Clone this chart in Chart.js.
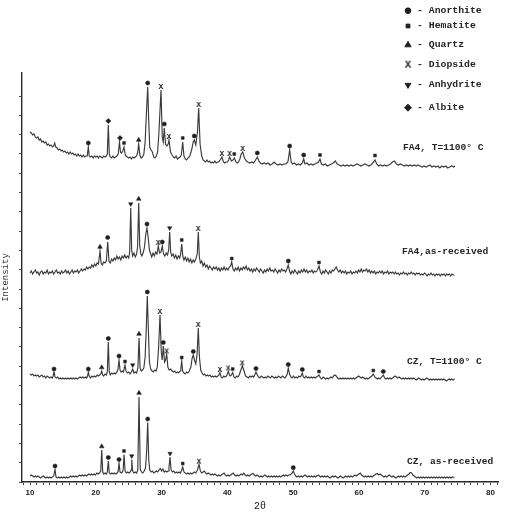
<!DOCTYPE html>
<html><head><meta charset="utf-8">
<style>html,body{margin:0;padding:0;background:#fff;}canvas{display:block;}</style>
<script src="https://cdn.jsdelivr.net/npm/chart.js@4.4.1/dist/chart.umd.min.js"></script>
</head><body>
<canvas id="c" width="515" height="515"></canvas>
<script>
// ---- tick labels ----
const xTickLabels = ['10','20','30','40','50','60','70','80'];
const xTickValues = [9,10,11,12,13,14,15,16,17,18,19,20,21,22,23,24,25,26,27,28,29,30,31,32,33,34,35,36,37,38,39,40,41,42,43,44,45,46,47,48,49,50,51,52,53,54,55,56,57,58,59,60,61,62,63,64,65,66,67,68,69,70,71,72,73,74,75,76,77,78,79,80,81];

// ---- series: [2theta, intensity (offset, arbitrary units)] ----
const fa4Heated = [[10.0,350],[10.2,349],[10.4,347],[10.6,348],[10.8,345],[11.0,344],[11.2,345],[11.4,342],[11.6,343],[11.8,340],[12.0,341],[12.2,339],[12.4,340],[12.6,337],[12.8,338],[13.0,336],[13.2,337],[13.4,335],[13.6,336],[13.75,339],[13.9,335],[14.1,334],[14.3,332],[14.5,333],[14.7,331],[14.9,332],[15.1,330],[15.3,331],[15.5,329],[15.7,330],[15.9,328],[16.1,330],[16.3,328],[16.5,329],[16.7,327],[16.9,328],[17.1,326],[17.3,328],[17.5,326],[17.7,327],[17.9,325],[18.1,327],[18.3,325],[18.5,326],[18.7,326],[18.86,335],[19.0,326],[19.2,325],[19.4,326],[19.6,324],[19.8,326],[20.0,325],[20.2,326],[20.4,324],[20.6,326],[20.8,325],[21.0,324],[21.2,326],[21.4,325],[21.6,326],[21.75,328],[21.9,357],[22.05,328],[22.2,325],[22.4,324],[22.6,326],[22.8,324],[23.0,325],[23.2,326],[23.4,328],[23.6,340],[23.75,330],[23.9,329],[24.1,331],[24.29,335],[24.45,328],[24.6,326],[24.8,325],[25.0,324],[25.2,325],[25.4,323],[25.6,325],[25.8,324],[26.0,325],[26.2,326],[26.35,329],[26.52,338],[26.7,327],[26.9,324],[27.1,325],[27.3,328],[27.5,340],[27.7,370],[27.89,395],[28.05,360],[28.2,335],[28.4,332],[28.6,330],[28.8,325],[29.0,324],[29.2,326],[29.4,330],[29.6,350],[29.91,392],[30.1,345],[30.25,340],[30.41,354],[30.6,338],[30.8,336],[31.0,338],[31.13,342],[31.35,330],[31.6,327],[31.8,325],[32.0,324],[32.2,326],[32.4,323],[32.6,324],[32.8,325],[33.0,327],[33.21,340],[33.4,326],[33.6,323],[33.8,322],[34.0,324],[34.3,326],[34.6,333],[34.8,340],[34.97,342],[35.2,337],[35.45,350],[35.64,374],[35.85,338],[36.1,326],[36.3,322],[36.5,321],[36.7,320],[36.9,322],[37.1,320],[37.3,321],[37.5,319],[37.7,320],[37.9,319],[38.1,321],[38.3,319],[38.5,320],[38.7,320],[38.9,322],[39.18,325],[39.4,320],[39.6,319],[39.8,320],[40.0,320],[40.2,322],[40.35,325],[40.6,321],[40.85,322],[41.05,324],[41.3,320],[41.5,319],[41.7,320],[41.9,323],[42.1,328],[42.33,330],[42.6,324],[42.9,321],[43.1,320],[43.4,319],[43.7,320],[44.0,319],[44.2,321],[44.55,325],[44.8,321],[45.0,319],[45.3,318],[45.6,319],[45.9,318],[46.2,319],[46.5,317],[46.8,318],[47.1,320],[47.4,318],[47.7,317],[48.0,318],[48.3,317],[48.6,318],[48.9,318],[49.2,320],[49.47,332],[49.7,320],[49.9,318],[50.2,319],[50.5,317],[50.8,318],[51.1,317],[51.4,319],[51.6,323],[51.8,318],[52.1,319],[52.4,317],[52.7,318],[53.0,317],[53.3,318],[53.6,319],[53.85,320],[54.08,323],[54.3,318],[54.6,317],[54.9,318],[55.2,316],[55.5,317],[55.8,318],[56.1,319],[56.4,321],[56.7,318],[57.0,317],[57.3,316],[57.6,317],[57.9,316],[58.2,317],[58.5,316],[58.8,317],[59.1,316],[59.4,317],[59.7,318],[60.0,317],[60.3,316],[60.6,317],[60.9,318],[61.2,317],[61.5,316],[61.8,317],[62.1,319],[62.44,322],[62.7,318],[63.0,316],[63.3,317],[63.6,316],[63.9,317],[64.2,316],[64.5,317],[64.8,318],[65.1,320],[65.4,321],[65.7,318],[66.0,317],[66.3,318],[66.6,317],[66.9,316],[67.2,317],[67.5,316],[67.8,317],[68.1,316],[68.4,317],[68.7,316],[69.0,317],[69.3,316],[69.6,315],[69.9,316],[70.2,315],[70.5,316],[70.8,317],[71.1,315],[71.4,316],[71.7,315],[72.0,316],[72.3,314],[72.6,316],[72.9,315],[73.2,316],[73.5,314],[73.8,315],[74.1,316],[74.4,315],[74.6,316]];

const fa4Received = [[10.0,209],[10.2,211],[10.4,208],[10.6,210],[10.8,212],[11.0,209],[11.2,210],[11.4,207],[11.6,210],[11.8,211],[12.0,208],[12.2,210],[12.4,209],[12.6,212],[12.8,208],[13.0,210],[13.2,209],[13.4,211],[13.6,208],[13.8,210],[14.0,212],[14.2,209],[14.4,210],[14.6,208],[14.8,211],[15.0,209],[15.2,210],[15.4,212],[15.6,209],[15.8,211],[16.0,208],[16.2,210],[16.4,212],[16.6,209],[16.8,211],[17.0,210],[17.2,212],[17.4,209],[17.6,211],[17.8,213],[18.0,211],[18.2,213],[18.4,212],[18.6,215],[18.8,213],[19.0,215],[19.2,214],[19.4,217],[19.6,215],[19.8,218],[20.0,216],[20.2,219],[20.4,218],[20.64,231],[20.8,219],[21.0,217],[21.2,220],[21.4,219],[21.6,221],[21.81,240],[22.0,221],[22.2,219],[22.4,223],[22.6,221],[22.8,224],[23.0,222],[23.2,226],[23.4,223],[23.6,225],[23.8,222],[24.0,226],[24.2,224],[24.4,227],[24.6,224],[24.8,226],[25.0,224],[25.15,230],[25.31,274],[25.45,232],[25.6,226],[25.8,229],[26.0,225],[26.2,228],[26.35,235],[26.52,279],[26.68,236],[26.85,228],[27.0,226],[27.2,229],[27.4,235],[27.6,248],[27.78,254],[27.95,245],[28.15,232],[28.35,228],[28.5,225],[28.7,229],[28.9,226],[29.1,230],[29.3,228],[29.5,236],[29.7,229],[29.9,230],[30.11,236],[30.3,228],[30.5,226],[30.7,229],[30.9,227],[31.08,232],[31.23,250],[31.38,230],[31.55,226],[31.75,228],[31.95,224],[32.15,227],[32.35,223],[32.55,226],[32.75,224],[32.9,228],[33.06,238],[33.22,226],[33.4,222],[33.6,225],[33.8,221],[34.0,224],[34.2,220],[34.4,223],[34.6,219],[34.8,222],[35.0,220],[35.2,223],[35.42,228],[35.58,250],[35.74,225],[35.9,219],[36.1,221],[36.3,216],[36.5,219],[36.7,215],[36.9,217],[37.1,213],[37.3,216],[37.5,214],[37.7,212],[37.9,215],[38.1,213],[38.3,215],[38.5,212],[38.7,214],[38.9,211],[39.1,214],[39.3,212],[39.5,215],[39.7,212],[39.9,214],[40.1,212],[40.3,215],[40.5,216],[40.66,220],[40.85,213],[41.05,211],[41.25,214],[41.45,212],[41.65,215],[41.85,211],[42.05,214],[42.25,212],[42.45,215],[42.65,213],[42.85,216],[43.05,212],[43.25,214],[43.45,211],[43.65,213],[43.85,210],[44.05,213],[44.25,211],[44.45,214],[44.65,212],[44.85,210],[45.05,213],[45.25,211],[45.45,209],[45.65,212],[45.85,210],[46.05,213],[46.25,211],[46.45,214],[46.65,211],[46.85,212],[47.05,210],[47.25,213],[47.45,211],[47.65,209],[47.85,212],[48.05,210],[48.25,213],[48.45,211],[48.65,212],[48.85,210],[49.05,213],[49.26,217],[49.45,211],[49.65,208],[49.85,211],[50.05,209],[50.25,212],[50.45,210],[50.65,208],[50.85,211],[51.05,209],[51.25,212],[51.45,210],[51.65,213],[51.85,210],[52.05,212],[52.25,209],[52.45,211],[52.65,210],[52.85,212],[53.05,209],[53.25,211],[53.45,210],[53.7,212],[53.93,216],[54.15,210],[54.35,208],[54.55,211],[54.75,209],[54.95,212],[55.15,210],[55.35,208],[55.55,211],[55.75,209],[55.95,212],[56.15,211],[56.35,213],[56.55,215],[56.75,212],[56.95,210],[57.15,212],[57.35,209],[57.55,211],[57.75,209],[57.95,211],[58.15,208],[58.35,210],[58.55,209],[58.75,211],[58.95,208],[59.15,210],[59.35,209],[59.55,211],[59.75,209],[59.95,212],[60.15,210],[60.35,213],[60.55,210],[60.75,212],[60.95,211],[61.15,213],[61.35,210],[61.55,212],[61.75,209],[61.95,211],[62.15,209],[62.35,211],[62.55,208],[62.75,210],[62.95,209],[63.15,211],[63.35,209],[63.55,211],[63.75,208],[63.95,210],[64.15,209],[64.35,211],[64.55,208],[64.75,210],[64.95,209],[65.15,210],[65.35,208],[65.55,210],[65.75,208],[65.95,209],[66.15,207],[66.35,209],[66.55,208],[66.75,210],[66.95,208],[67.15,209],[67.35,207],[67.55,209],[67.75,208],[67.95,210],[68.15,208],[68.35,209],[68.55,207],[68.75,209],[68.95,208],[69.15,209],[69.35,207],[69.55,208],[69.75,207],[69.95,209],[70.15,208],[70.35,206],[70.55,208],[70.75,207],[70.95,209],[71.15,207],[71.35,208],[71.55,206],[71.75,208],[71.95,207],[72.15,208],[72.35,206],[72.55,208],[72.75,207],[72.95,208],[73.15,206],[73.35,208],[73.55,207],[73.75,208],[73.95,206],[74.15,208],[74.35,207],[74.55,207]];

const czHeated = [[10.0,108],[10.2,107],[10.4,108],[10.6,106],[10.8,107],[11.0,106],[11.2,107],[11.4,105],[11.6,106],[11.8,107],[12.0,105],[12.2,106],[12.4,104],[12.6,106],[12.8,105],[13.0,104],[13.2,105],[13.4,104],[13.5,106],[13.65,110],[13.8,105],[14.0,104],[14.2,105],[14.4,103],[14.6,104],[14.8,103],[15.0,104],[15.2,103],[15.4,104],[15.6,103],[15.8,104],[16.0,103],[16.2,104],[16.4,103],[16.6,104],[16.8,103],[17.0,104],[17.2,103],[17.4,104],[17.6,105],[17.8,104],[18.0,105],[18.2,104],[18.4,105],[18.6,104],[18.75,106],[18.86,110],[19.0,106],[19.2,104],[19.4,106],[19.6,105],[19.8,106],[20.0,105],[20.2,107],[20.4,106],[20.6,107],[20.75,108],[20.9,111],[21.05,107],[21.2,106],[21.4,108],[21.6,107],[21.75,110],[21.9,140],[22.05,110],[22.2,107],[22.4,109],[22.6,108],[22.8,109],[23.0,108],[23.2,110],[23.38,113],[23.53,122],[23.68,112],[23.85,110],[24.0,111],[24.2,110],[24.44,117],[24.6,111],[24.8,109],[25.0,110],[25.2,108],[25.4,110],[25.61,113],[25.8,109],[26.0,110],[26.2,109],[26.4,114],[26.57,144],[26.73,114],[26.9,111],[27.1,112],[27.3,114],[27.5,125],[27.65,150],[27.83,186],[28.0,150],[28.15,120],[28.35,113],[28.55,111],[28.75,110],[28.95,112],[29.15,111],[29.35,115],[29.55,135],[29.76,167],[29.95,130],[30.1,122],[30.26,136],[30.45,120],[30.6,122],[30.78,128],[30.95,115],[31.15,112],[31.4,113],[31.6,111],[31.8,110],[32.0,111],[32.2,109],[32.4,110],[32.6,109],[32.8,111],[32.92,113],[33.06,121],[33.2,111],[33.4,109],[33.6,108],[33.8,110],[34.0,109],[34.2,111],[34.45,115],[34.65,124],[34.82,127],[35.0,122],[35.2,118],[35.4,128],[35.58,154],[35.75,125],[35.95,112],[36.15,109],[36.35,107],[36.55,108],[36.75,106],[36.95,107],[37.15,106],[37.35,107],[37.55,105],[37.75,106],[37.95,105],[38.15,106],[38.35,105],[38.55,106],[38.72,107],[38.88,109.5],[39.05,105],[39.25,104],[39.45,106],[39.65,105],[39.85,106],[40.0,108],[40.14,111],[40.3,107],[40.45,106],[40.62,107],[40.81,109.5],[41.0,105],[41.2,104],[41.4,106],[41.6,105],[41.8,107],[42.0,111],[42.27,116],[42.5,112],[42.75,106],[43.0,105],[43.2,104],[43.4,106],[43.6,105],[43.8,106],[44.0,105],[44.15,107],[44.35,110],[44.55,107],[44.75,105],[44.95,104],[45.15,106],[45.35,105],[45.55,104],[45.75,105],[45.95,104],[46.15,106],[46.35,105],[46.55,104],[46.75,106],[46.95,105],[47.15,104],[47.35,105],[47.55,104],[47.75,106],[47.95,105],[48.15,104],[48.35,106],[48.55,105],[48.75,104],[48.95,106],[49.1,108],[49.26,114],[49.45,108],[49.65,105],[49.85,104],[50.05,106],[50.25,104],[50.45,105],[50.65,104],[50.85,106],[51.05,105],[51.2,106],[51.39,109],[51.55,105],[51.75,104],[51.95,106],[52.15,104],[52.35,105],[52.55,104],[52.75,105],[52.95,104],[53.15,105],[53.35,104],[53.55,105],[53.75,106],[53.93,107],[54.15,104],[54.35,103],[54.55,105],[54.75,104],[54.95,103],[55.15,104],[55.35,103],[55.55,104],[55.75,105],[55.95,104],[56.15,106],[56.35,107],[56.55,106],[56.75,104],[56.95,103],[57.15,104],[57.35,103],[57.55,104],[57.75,103],[57.95,104],[58.15,103],[58.35,104],[58.55,103],[58.75,104],[58.95,103],[59.15,104],[59.35,103],[59.55,104],[59.75,105],[59.95,106],[60.15,105],[60.35,104],[60.55,105],[60.75,104],[60.95,103],[61.15,104],[61.35,103],[61.55,104],[61.75,105],[61.95,106],[62.18,108],[62.4,105],[62.6,104],[62.8,103],[63.0,104],[63.2,103],[63.45,105],[63.7,107],[63.9,104],[64.1,103],[64.3,104],[64.5,103],[64.7,104],[64.9,103],[65.1,104],[65.3,105],[65.5,106],[65.7,105],[65.9,104],[66.1,105],[66.3,104],[66.5,103],[66.7,104],[66.9,103],[67.1,104],[67.3,103],[67.5,104],[67.7,103],[67.9,104],[68.1,103],[68.3,104],[68.5,103],[68.7,102],[68.9,103],[69.1,104],[69.3,103],[69.5,102],[69.7,103],[69.9,102],[70.1,103],[70.3,104],[70.5,103],[70.7,102],[70.9,103],[71.1,102],[71.3,103],[71.5,102],[71.7,103],[71.9,102],[72.1,103],[72.3,102],[72.5,103],[72.7,102],[72.9,103],[73.1,102],[73.3,101],[73.5,102],[73.7,103],[73.9,102],[74.1,103],[74.3,102],[74.55,103]];

const czReceived = [[10.0,6],[10.2,7],[10.4,6],[10.6,5],[10.8,6],[11.0,5],[11.2,6],[11.4,5],[11.6,4],[11.8,5],[12.0,6],[12.2,5],[12.4,4],[12.6,5],[12.8,4],[13.0,5],[13.2,4],[13.4,5],[13.6,6],[13.8,12.5],[13.95,5],[14.15,4],[14.35,5],[14.55,4],[14.75,5],[14.95,4],[15.15,5],[15.35,4],[15.55,5],[15.75,4],[15.95,5],[16.15,6],[16.35,5],[16.55,6],[16.75,5],[16.95,6],[17.15,5],[17.35,6],[17.55,7],[17.75,6],[17.95,7],[18.15,6],[18.35,7],[18.55,6],[18.75,7],[18.95,8],[19.15,7],[19.35,8],[19.55,7],[19.75,8],[19.95,7],[20.15,9],[20.35,8],[20.55,9],[20.75,11],[20.9,32],[21.05,10],[21.2,8],[21.4,9],[21.6,8],[21.75,10],[21.9,21],[22.05,9],[22.25,8],[22.45,9],[22.65,8],[22.85,9],[23.05,8],[23.25,9],[23.4,11],[23.53,19],[23.68,10],[23.85,9],[24.05,10],[24.15,12],[24.29,27.5],[24.45,11],[24.65,9],[24.85,10],[25.05,9],[25.25,10],[25.35,12],[25.46,22.5],[25.6,11],[25.8,9],[26.0,10],[26.2,9],[26.38,12],[26.57,85],[26.75,13],[26.95,10],[27.15,9],[27.35,11],[27.55,14],[27.72,30],[27.89,59.5],[28.05,22],[28.2,12],[28.4,10],[28.6,11],[28.8,9],[29.0,10],[29.2,11],[29.4,10],[29.6,12],[29.8,13.5],[30.0,11],[30.2,13],[30.4,10],[30.6,11],[30.8,10],[31.0,11],[31.12,14],[31.28,25],[31.45,12],[31.65,10],[31.85,11],[32.05,9],[32.25,10],[32.45,9],[32.65,10],[32.85,9],[33.0,11],[33.21,15],[33.4,10],[33.6,9],[33.8,8],[34.0,9],[34.2,8],[34.4,9],[34.6,8],[34.8,9],[35.0,10],[35.2,9],[35.45,12],[35.69,17.8],[35.9,11],[36.1,9],[36.3,10],[36.5,11],[36.7,9],[36.9,8],[37.1,9],[37.3,8],[37.5,7],[37.7,8],[37.9,7],[38.1,8],[38.3,7],[38.5,6],[38.7,7],[38.9,6],[39.1,7],[39.3,8],[39.5,9],[39.7,7],[39.9,6],[40.1,7],[40.3,6],[40.5,7],[40.7,8],[40.9,9],[41.1,7],[41.3,6],[41.5,7],[41.7,6],[41.9,7],[42.1,8],[42.3,7],[42.5,9],[42.7,7],[42.9,6],[43.1,7],[43.3,6],[43.5,7],[43.7,8],[43.9,8.5],[44.1,7],[44.3,6],[44.5,7],[44.7,6],[44.9,5],[45.1,6],[45.3,5],[45.5,6],[45.7,7],[45.9,6],[46.1,5],[46.3,6],[46.5,5],[46.7,6],[46.9,5],[47.1,6],[47.3,5],[47.5,6],[47.7,5],[47.9,6],[48.1,5],[48.3,6],[48.5,7],[48.7,6],[48.9,7],[49.1,6],[49.3,7],[49.5,7],[49.7,8],[49.85,9],[50.02,11],[50.2,8],[50.4,6],[50.6,5],[50.8,6],[51.0,5],[51.2,6],[51.4,5],[51.6,6],[51.8,7],[52.0,6],[52.2,5],[52.4,6],[52.6,5],[52.8,6],[53.0,5],[53.2,6],[53.4,5],[53.6,6],[53.8,7],[54.0,6],[54.2,5],[54.4,6],[54.6,5],[54.8,6],[55.0,5],[55.2,6],[55.4,5],[55.6,4],[55.8,5],[56.0,6],[56.2,5],[56.4,6],[56.6,5],[56.8,4],[57.0,5],[57.2,6],[57.4,5],[57.6,4],[57.8,5],[58.0,6],[58.2,5],[58.4,6],[58.6,5],[58.8,6],[59.0,5],[59.2,6],[59.4,7],[59.6,6],[59.8,7],[60.0,8],[60.2,9],[60.4,7],[60.6,6],[60.8,5],[61.0,6],[61.2,5],[61.4,6],[61.6,5],[61.8,6],[62.0,5],[62.2,6],[62.4,7],[62.6,8],[62.8,8.5],[63.0,7],[63.2,8],[63.4,7],[63.6,6],[63.8,5],[64.0,6],[64.2,5],[64.4,6],[64.6,7],[64.8,6],[65.0,5],[65.2,6],[65.4,5],[65.6,4],[65.8,5],[66.0,6],[66.2,5],[66.4,6],[66.6,5],[66.8,6],[67.0,5],[67.2,6],[67.4,7],[67.6,8],[67.8,9.5],[68.0,9],[68.2,7],[68.4,6],[68.6,5],[68.8,4],[69.0,5],[69.2,4],[69.4,5],[69.6,4],[69.8,5],[70.0,4],[70.2,5],[70.4,4],[70.6,5],[70.8,4],[71.0,5],[71.2,4],[71.4,5],[71.6,4],[71.8,5],[72.0,4],[72.2,5],[72.4,4],[72.6,5],[72.8,4],[73.0,5],[73.2,4],[73.4,5],[73.6,4],[73.8,5],[74.0,4],[74.2,5],[74.5,4.5]];

// ---- phase markers: [2theta, intensity, phase code] ----
const fa4HeatedPeaks = [[18.86,339,'A'],[21.9,361,'B'],[23.68,344,'B'],[24.29,339,'H'],[26.52,342,'Q'],[27.89,399,'A'],[29.91,396,'D'],[30.41,358,'A'],[31.13,346,'D'],[33.21,344,'H'],[34.97,346,'A'],[35.64,378,'D'],[39.18,329,'D'],[40.35,329,'D'],[41.05,328,'H'],[42.33,334,'D'],[44.55,329,'A'],[49.47,336,'A'],[51.6,327,'A'],[54.08,327,'H'],[62.44,326.5,'H']];
const fa4ReceivedPeaks = [[20.64,235,'Q'],[21.81,244.5,'A'],[25.31,278,'N'],[26.52,283,'Q'],[27.78,258,'A'],[29.5,240,'D'],[30.11,240,'A'],[31.23,254,'N'],[33.06,242,'H'],[35.58,254,'D'],[40.66,223.5,'H'],[49.26,221,'A'],[53.93,219.5,'H']];
const czHeatedPeaks = [[13.65,113,'A'],[18.86,113,'A'],[20.9,114.5,'Q'],[21.9,143.5,'A'],[23.53,126,'A'],[24.44,120.5,'H'],[25.61,117,'N'],[26.57,148,'Q'],[27.83,190,'A'],[29.76,171,'D'],[30.26,139.5,'A'],[30.78,131.5,'D'],[33.06,124.5,'H'],[34.82,130.5,'A'],[35.58,158,'D'],[38.88,113,'D'],[40.14,114.5,'D'],[40.81,113,'H'],[42.27,119.5,'D'],[44.35,113.5,'A'],[49.26,117.5,'A'],[51.39,112.5,'A'],[53.93,110.5,'H'],[62.18,111.5,'H'],[63.7,110.5,'A']];
const czReceivedPeaks = [[13.8,16,'A'],[20.9,35.5,'Q'],[21.9,24.5,'A'],[23.53,22.5,'A'],[24.29,31,'H'],[25.46,26,'N'],[26.57,89,'Q'],[27.89,63,'A'],[31.28,28.5,'N'],[33.21,18.5,'H'],[35.69,21.3,'D'],[50.02,14.3,'A']];

// ---- phases / legend ----
const phaseCodes = ['A','H','Q','D','N','B'];
const phaseNames = ['Anorthite','Hematite','Quartz','Diopside','Anhydrite','Albite'];
const traceLabels = ['FA4, T=1100\u00b0 C','FA4,as-received','CZ, T=1100\u00b0 C','CZ, as-received'];
const traceLabelAnchors = [[66.7,334],[66.55,230],[67.3,120],[67.3,20]];

// ---- styles ----
const inkColor = '#1e1e1e';
const lineColor = '#3a3a3a';
const monoFont = '"Liberation Mono", "DejaVu Sans Mono", monospace';

// letter-X glyph used as the Diopside point style
function makeXGlyph(px){
  const c = document.createElement('canvas');
  const w = Math.ceil(px*0.75), h = Math.ceil(px*0.9);
  c.width = w; c.height = h;
  const g = c.getContext('2d');
  g.fillStyle = inkColor; g.textAlign = 'center'; g.textBaseline = 'middle';
  g.font = 'bold ' + px + 'px ' + monoFont;
  g.fillText('X', w/2, h/2 + 0.5);
  return c;
}
const xGlyphSmall = makeXGlyph(8);
const xGlyphLegend = makeXGlyph(11);

const phaseStyle = {
  A:{pointStyle:'circle',radius:2.1,rotation:0,bw:0.5},
  H:{pointStyle:'rect',radius:2.0,rotation:0,bw:0.5},
  Q:{pointStyle:'triangle',radius:2.7,rotation:0,bw:0.5},
  D:{pointStyle:xGlyphSmall,radius:3,rotation:0,bw:0},
  N:{pointStyle:'triangle',radius:2.5,rotation:180,bw:0.5},
  B:{pointStyle:'rectRot',radius:2.6,rotation:0,bw:0.5}
};

const toXY = arr => arr.map(p => ({x:p[0], y:p[1]}));
const allPeaks = [fa4HeatedPeaks, fa4ReceivedPeaks, czHeatedPeaks, czReceivedPeaks];

const datasets = [];
[fa4Heated, fa4Received, czHeated, czReceived].forEach((s,i) => {
  datasets.push({type:'line', label:traceLabels[i], data:toXY(s), borderColor:lineColor, borderWidth:1.15,
    pointRadius:0, tension:0, fill:false, order:2});
});
phaseCodes.forEach((code,i) => {
  const st = phaseStyle[code];
  const pts = [];
  allPeaks.forEach(list => list.forEach(p => { if (p[2]===code) pts.push({x:p[0], y:p[1]}); }));
  datasets.push({type:'scatter', label:phaseNames[i], data:pts, showLine:false,
    pointStyle:st.pointStyle, pointRadius:st.radius, pointRotation:st.rotation,
    pointBackgroundColor:inkColor, pointBorderColor:inkColor, pointBorderWidth:st.bw, order:1});
});

const legendBox = {markerX:408, textX:417, rows:[10.7,26,45,64.7,85,107.7]};

const annotate = {
  id:'annotate',
  afterDatasetsDraw(chart){
    const ctx = chart.ctx, xs = chart.scales.x, ys = chart.scales.y;
    ctx.save();
    ctx.fillStyle = '#262626';
    ctx.textBaseline = 'middle';
    ctx.textAlign = 'left';
    ctx.font = 'bold 9.6px ' + monoFont;
    traceLabels.forEach((t,i) => {
      ctx.fillText(t, xs.getPixelForValue(traceLabelAnchors[i][0]), ys.getPixelForValue(traceLabelAnchors[i][1]));
    });
    // legend
    ctx.font = 'bold 9.8px ' + monoFont;
    phaseCodes.forEach((code,i) => {
      const st = phaseStyle[code];
      const y = legendBox.rows[i];
      ctx.fillStyle = inkColor; ctx.strokeStyle = inkColor; ctx.lineWidth = st.bw + 0.4;
      const ps = code === 'D' ? xGlyphLegend : st.pointStyle;
      Chart.helpers.drawPoint(ctx, {pointStyle:ps, radius:st.radius*1.35, rotation:st.rotation, borderWidth:st.bw+0.4}, legendBox.markerX, y);
      ctx.fillStyle = '#262626';
      ctx.fillText('- ' + phaseNames[i], legendBox.textX, y);
    });
    ctx.restore();
  }
};

new Chart(document.getElementById('c'), {
  data:{datasets},
  options:{
    responsive:false, animation:false, devicePixelRatio:1,
    layout:{padding:{top:73,right:17,left:0,bottom:0}},
    plugins:{legend:{display:false}, tooltip:{enabled:false}},
    scales:{
      x:{type:'linear', min:8.78, max:81.14,
        afterBuildTicks:s => { s.ticks = xTickValues.map(v => ({value:v})); },
        afterFit:s => { s.height = 33; },
        grid:{display:true, drawOnChartArea:false, drawTicks:true, tickLength:3, color:'#444', lineWidth:1},
        border:{display:true, color:'#2a2a2a', width:1.6},
        ticks:{autoSkip:false, maxRotation:0, minRotation:0, padding:3, color:'#222',
          font:{family:'"Liberation Sans Narrow", "Liberation Sans", Arial, sans-serif', size:8, weight:'bold'},
          callback:v => { const s = String(v); return xTickLabels.includes(s) ? s : ''; }},
        title:{display:true, text:'2\u03b8', color:'#222',
          font:{family:monoFont, size:10}, padding:{top:0,bottom:3}}
      },
      y:{type:'linear', min:0, max:409,
        ticks:{display:false, stepSize:19.3},
        afterBuildTicks:s => { s.ticks = s.ticks.filter(t => t.value < 407); },
        afterFit:s => { s.width = 22; },
        grid:{display:true, drawOnChartArea:false, drawTicks:true, tickLength:3, color:'#555', lineWidth:1},
        border:{display:true, color:'#2a2a2a', width:1.4},
        title:{display:true, text:'Intensity', color:'#333',
          font:{family:monoFont, size:9}, padding:{top:0,bottom:0}}
      }
    }
  },
  plugins:[annotate]
});
</script>
</body></html>
